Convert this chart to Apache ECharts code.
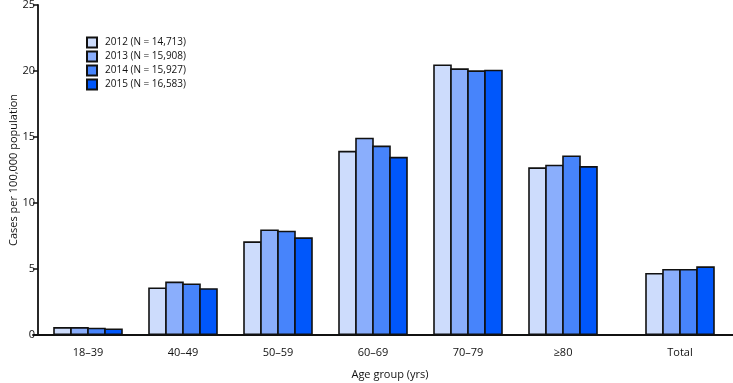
<!DOCTYPE html>
<html>
<head>
<meta charset="utf-8">
<script src="https://cdn.jsdelivr.net/npm/echarts@6/dist/echarts.min.js"></script>
<style>html,body{margin:0;padding:0;background:#fff}#c{width:733px;height:383px}</style>
</head>
<body>
<div id="c"></div>
<script>
const categories = ['18–39', '40–49', '50–59', '60–69', '70–79', '≥80', 'Total'];
const seriesNames = ['2012 (N = 14,713)', '2013 (N = 15,908)', '2014 (N = 15,927)', '2015 (N = 16,583)'];
const values2012 = [0.6, 3.6, 7.1, 13.95, 20.5, 12.7, 4.7];
const values2013 = [0.6, 4.05, 8.0, 14.95, 20.2, 12.9, 5.0];
const values2014 = [0.55, 3.9, 7.9, 14.35, 20.05, 13.6, 5.0];
const values2015 = [0.5, 3.55, 7.4, 13.5, 20.1, 12.8, 5.2];
const yTicks = [0, 5, 10, 15, 20, 25];
const colors = ['#cddcfc', '#8aaefc', '#4784fb', '#0057fb'];

const allValues = [values2012, values2013, values2014, values2015];
const FONT = 'Open Sans';
const mainCats = categories.slice(0, 6);
const totalCats = categories.slice(6);

const series = [];
allValues.forEach((vals, i) => {
  const common = {
    type: 'bar', name: seriesNames[i], barWidth: 18.6, barGap: '-8.6%',
    itemStyle: { color: colors[i], borderColor: '#111', borderWidth: 1.6 },
    emphasis: { disabled: true }, animation: false
  };
  series.push(Object.assign({}, common, { xAxisIndex: 0, yAxisIndex: 0, data: vals.slice(0, 6) }));
  series.push(Object.assign({}, common, { xAxisIndex: 1, yAxisIndex: 1, data: vals.slice(6) }));
});

const yCommon = { type: 'value', min: yTicks[0], max: yTicks[yTicks.length - 1], interval: 5 };
const chart = echarts.init(document.getElementById('c'), null, { renderer: 'canvas' });
chart.setOption({
  animation: false,
  textStyle: { fontFamily: FONT },
  title: {
    text: 'Age group (yrs)', left: 385, top: 364, textAlign: 'center',
    textStyle: { fontFamily: FONT, fontSize: 11, fontWeight: 'normal', color: '#111' }
  },
  legend: {
    orient: 'vertical', left: 81, top: 31, itemWidth: 10, itemHeight: 10, itemGap: 1,
    icon: 'rect',
    data: seriesNames,
    textStyle: { fontFamily: FONT, fontSize: 10, lineHeight: 13, color: '#111', padding: [0, 0, 0, 3] }
  },
  grid: [
    { left: 40.5, width: 570, top: 5, bottom: 48, containLabel: false, outerBoundsMode: 'none' },
    { left: 33, width: 1294, top: 5, bottom: 48, containLabel: false, outerBoundsMode: 'none' }
  ],
  xAxis: [
    {
      type: 'category', gridIndex: 0, data: mainCats,
      axisLine: { show: false }, axisTick: { show: false },
      axisLabel: { margin: 12, fontSize: 11, color: '#111', fontFamily: FONT }
    },
    {
      type: 'category', gridIndex: 1, data: totalCats,
      axisLine: { show: true, lineStyle: { color: '#111', width: 1.8 } }, axisTick: { show: false },
      axisLabel: { margin: 12, fontSize: 11, color: '#111', fontFamily: FONT }
    }
  ],
  yAxis: [
    Object.assign({}, yCommon, {
      gridIndex: 0, offset: 2.5,
      name: 'Cases per 100,000 population', nameLocation: 'middle', nameGap: 19,
      nameMoveOverlap: false,
      nameTextStyle: { fontSize: 11, color: '#111', fontFamily: FONT },
      axisLine: { show: true, lineStyle: { color: '#111', width: 1.8 } },
      axisTick: { show: true, length: 5, lineStyle: { color: '#111', width: 1.5 } },
      axisLabel: { fontSize: 11, color: '#111', margin: 3, fontFamily: FONT },
      splitLine: { show: false }
    }),
    Object.assign({}, yCommon, {
      gridIndex: 1, show: false, splitLine: { show: false }
    })
  ],
  series: series
});
</script>
</body>
</html>
